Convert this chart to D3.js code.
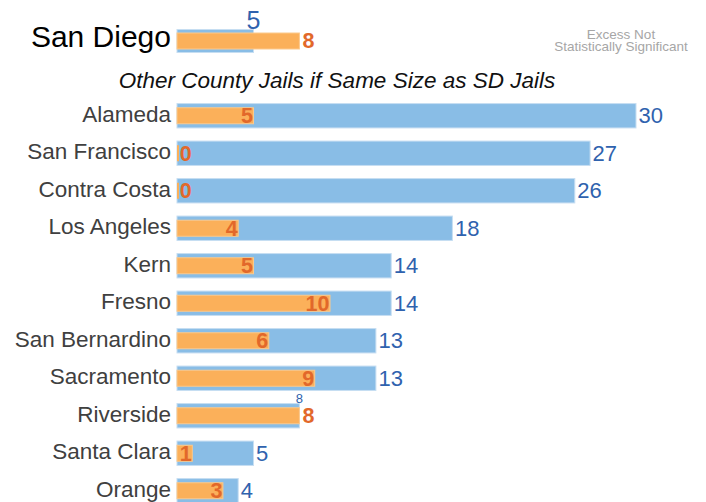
<!DOCTYPE html>
<html>
<head>
<meta charset="utf-8">
<script src="https://cdn.jsdelivr.net/npm/d3@7"></script>
<style>
  html, body { margin: 0; padding: 0; background: #fff; }
  svg { display: block; font-family: "Liberation Sans", Arial, sans-serif; }
</style>
</head>
<body>
<svg id="chart" width="706" height="502"></svg>
<script>
// Reference county
const refName = "San Diego";
const refBlue = 5;
const refOrange = 8;

// Other counties, scaled to the size of the San Diego jails
const counties = ["Alameda", "San Francisco", "Contra Costa", "Los Angeles", "Kern", "Fresno",
  "San Bernardino", "Sacramento", "Riverside", "Santa Clara", "Orange"];
const blueValues = [30, 27, 26, 18, 14, 14, 13, 13, 8, 5, 4];
const orangeValues = [5, 0, 0, 4, 5, 10, 6, 9, 8, 1, 3];

const subtitle = "Other County Jails if Same Size as SD Jails";
const noteLines = ["Excess Not", "Statistically Significant"];

const BLUE = "#89bde6", BLUE_EDGE = "#c6def2", BLUE_TEXT = "#2f62ae";
const ORANGE = "#fbb05a", ORANGE_EDGE = "#fcc98c", ORANGE_TEXT = "#e2682a";

const svg = d3.select("#chart");

const x = d3.scaleLinear().domain([0, 30]).range([177, 636]);
const y = d3.scaleBand().domain(counties).range([97, 509.5]).paddingInner(0.35).paddingOuter(0.175);
const orangeH = 16;

// Draws one row: wide blue bar, narrower orange bar, labels
function drawRow(g, cy, name, bv, ov, opts) {
  const bh = opts.blueH, oh = opts.orangeH;
  g.append("rect")
    .attr("x", x(0)).attr("y", cy - bh / 2)
    .attr("width", x(bv) - x(0)).attr("height", bh)
    .attr("fill", BLUE).attr("stroke", BLUE_EDGE).attr("stroke-width", 1);
  g.append("rect")
    .attr("x", x(0)).attr("y", cy - oh / 2)
    .attr("width", Math.max(x(ov) - x(0), 2)).attr("height", oh)
    .attr("fill", ORANGE).attr("stroke", ov > 0 ? ORANGE_EDGE : "none").attr("stroke-width", 1);

  // category label
  g.append("text")
    .attr("x", opts.labelX).attr("y", cy).attr("dy", opts.labelDy)
    .attr("text-anchor", "end")
    .attr("font-size", opts.labelSize).attr("fill", opts.labelColor)
    .text(name);

  if (ov >= bv) {
    // orange reaches past the blue bar: blue value sits above, orange value to the right
    g.append("text")
      .attr("x", x(bv)).attr("y", cy - bh / 2 - 0.5)
      .attr("text-anchor", "middle")
      .attr("font-size", opts.aboveSize).attr("fill", BLUE_TEXT)
      .text(bv);
    g.append("text")
      .attr("x", x(ov) + 3).attr("y", cy).attr("dy", "0.34em")
      .attr("font-size", 21.5).attr("font-weight", "bold").attr("fill", ORANGE_TEXT)
      .text(ov);
  } else {
    g.append("text")
      .attr("x", x(bv) + 2.5).attr("y", cy).attr("dy", "0.35em")
      .attr("font-size", 22).attr("fill", BLUE_TEXT)
      .text(bv);
    g.append("text")
      .attr("x", Math.max(x(ov), x(1)) - 0.5).attr("y", cy).attr("dy", "0.34em")
      .attr("text-anchor", "end")
      .attr("font-size", 21.5).attr("font-weight", "bold").attr("fill", ORANGE_TEXT)
      .text(ov);
  }
}

// San Diego row
drawRow(svg.append("g"), 41, refName, refBlue, refOrange, {
  blueH: 23, orangeH: 16, labelX: 171, labelSize: 30, labelDy: "0.2em",
  labelColor: "#000", aboveSize: 25
});

// Note in the corner
svg.append("g").selectAll("text").data(noteLines).join("text")
  .attr("x", 621).attr("y", (d, i) => 39 + i * 12)
  .attr("text-anchor", "middle").attr("font-size", 13.5).attr("fill", "#a6a6a6")
  .text(d => d);

// Subtitle
svg.append("text")
  .attr("x", 337).attr("y", 88)
  .attr("text-anchor", "middle").attr("font-size", 22.5).attr("font-style", "italic")
  .attr("fill", "#111")
  .text(subtitle);

// County rows
const rows = svg.append("g");
counties.forEach((c, i) => {
  drawRow(rows.append("g"), y(c) + y.bandwidth() / 2, c, blueValues[i], orangeValues[i], {
    blueH: y.bandwidth(), orangeH: orangeH, labelX: 171, labelSize: 22.5, labelDy: "0.27em",
    labelColor: "#404040", aboveSize: 13
  });
});
</script>
</body>
</html>
